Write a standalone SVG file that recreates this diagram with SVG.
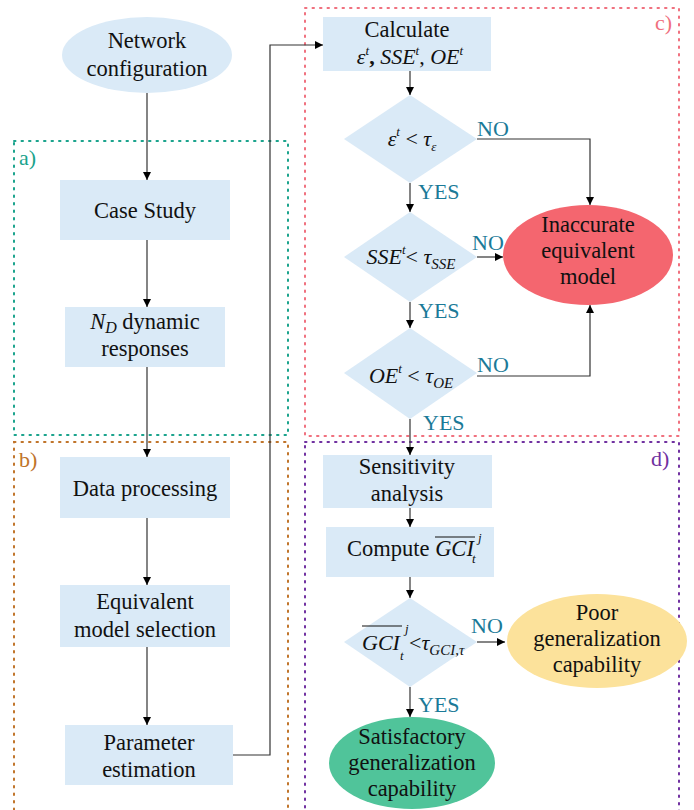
<svg xmlns="http://www.w3.org/2000/svg" width="694" height="810" viewBox="0 0 694 810">
<defs>
<marker id="ah" viewBox="0 0 10 10" refX="10" refY="5" markerWidth="9" markerHeight="8" markerUnits="userSpaceOnUse" orient="auto">
<path d="M0,0 L10,5 L0,10 z" fill="#000"/>
</marker>
</defs>
<style>
.box{fill:#DAEAF7;stroke:none}
.t,.ts,.m,.mc,.yn,.lab,.sm{font-family:"Liberation Serif","DejaVu Serif",serif}
.t{font-size:22.5px;fill:#111;text-anchor:middle}
.ts{font-size:22.5px;fill:#111;text-anchor:start}
.m{font-size:22px;fill:#111;font-style:italic;text-anchor:start}
.sm{font-size:13px;fill:#111;font-style:italic;text-anchor:start}
.mc{font-size:22px;fill:#111;font-style:italic;text-anchor:middle}
.yn{font-size:22px;fill:#1B7A98}
.ca{fill:none;stroke:#333;stroke-width:1.2;marker-end:url(#ah)}
.reg{fill:none;stroke-width:2;stroke-dasharray:1.5 6;stroke-linecap:round}
.lab{font-size:22px}
</style>
<rect width="694" height="810" fill="#fff"/>

<g id="regions">
<rect class="reg" x="14" y="141" width="274" height="294" stroke="#1AA38C"/>
<rect class="reg" x="305" y="8" width="374" height="428" stroke="#F0707E"/>
<rect class="reg" x="14" y="442" width="274" height="420" stroke="#C0742A"/>
<rect class="reg" x="305" y="442" width="374" height="420" stroke="#7030A0"/>
<text class="lab" x="19" y="165" fill="#1AA38C">a)</text>
<text class="lab" x="19" y="467" fill="#C0742A">b)</text>
<text class="lab" x="655" y="30" fill="#F0707E">c)</text>
<text class="lab" x="651" y="466" fill="#7030A0">d)</text>
</g>

<g id="connectors">
<line class="ca" x1="147" y1="93" x2="147" y2="180"/>
<line class="ca" x1="147" y1="240" x2="147" y2="307"/>
<line class="ca" x1="147" y1="367" x2="147" y2="457"/>
<line class="ca" x1="147" y1="518" x2="147" y2="585"/>
<line class="ca" x1="147" y1="647" x2="147" y2="725"/>
<polyline class="ca" points="233,755 270,755 270,45 323,45"/>
<line class="ca" x1="410" y1="71" x2="410" y2="95"/>
<line class="ca" x1="410" y1="183" x2="410" y2="212"/>
<polyline class="ca" points="477,139 590,139 590,205"/>
<line class="ca" x1="477" y1="257" x2="503" y2="257"/>
<line class="ca" x1="410" y1="302" x2="410" y2="328"/>
<polyline class="ca" points="477,376 590,376 590,305"/>
<line class="ca" x1="410" y1="419" x2="410" y2="455"/>
<line class="ca" x1="410" y1="508" x2="410" y2="527"/>
<line class="ca" x1="410" y1="577" x2="410" y2="598"/>
<line class="ca" x1="477" y1="642" x2="505" y2="642"/>
<line class="ca" x1="410" y1="687" x2="410" y2="717"/>
<text class="yn" x="477" y="136">NO</text>
<text class="yn" x="418" y="199">YES</text>
<text class="yn" x="472" y="250">NO</text>
<text class="yn" x="418" y="318">YES</text>
<text class="yn" x="477" y="372">NO</text>
<text class="yn" x="423" y="430">YES</text>
<text class="yn" x="471" y="633">NO</text>
<text class="yn" x="418" y="712">YES</text>
</g>

<g id="network-configuration">
<ellipse cx="147" cy="55" rx="85" ry="38" fill="#DAEAF7"/>
<text class="t" x="147" y="48">Network</text>
<text class="t" x="147" y="76">configuration</text>
</g>

<g id="case-study">
<rect class="box" x="60" y="180" width="170" height="60"/>
<text class="t" x="145" y="218">Case Study</text>
</g>

<g id="dynamic-responses">
<rect class="box" x="65" y="307" width="160" height="60"/>
<text class="t" x="145" y="329"><tspan font-style="italic">N</tspan><tspan font-style="italic" font-size="16" dy="4">D</tspan><tspan dy="-4"> dynamic</tspan></text>
<text class="t" x="145" y="356">responses</text>
</g>

<g id="data-processing">
<rect class="box" x="60" y="457" width="170" height="61"/>
<text class="t" x="145" y="496">Data processing</text>
</g>

<g id="equivalent-model-selection">
<rect class="box" x="60" y="585" width="170" height="62"/>
<text class="t" x="145" y="609">Equivalent</text>
<text class="t" x="145" y="637">model selection</text>
</g>

<g id="parameter-estimation">
<rect class="box" x="65" y="725" width="168" height="60"/>
<text class="t" x="149" y="750">Parameter</text>
<text class="t" x="149" y="777">estimation</text>
</g>

<g id="calculate">
<rect class="box" x="323" y="17" width="168" height="54"/>
<text class="t" x="407" y="37">Calculate</text>
<text class="mc" x="410" y="64">ε<tspan font-size="13" dy="-9">t</tspan><tspan dy="9" font-style="normal" font-weight="bold">, </tspan>SSE<tspan font-size="13" dy="-9">t</tspan><tspan dy="9" font-style="normal">, </tspan>OE<tspan font-size="13" dy="-9">t</tspan></text>
</g>

<g id="check-epsilon">
<polygon points="410,95 477,139 410,183 344,139" fill="#DAEAF7"/>
<text class="mc" x="412" y="146">ε<tspan font-size="13" dy="-10">t</tspan><tspan dy="10" font-style="normal"> &lt; </tspan>τ<tspan font-size="13" dy="5">ε</tspan></text>
</g>

<g id="check-sse">
<polygon points="410,212 477,257 410,302 344,257" fill="#DAEAF7"/>
<text class="mc" x="411" y="264">SSE<tspan font-size="13" dy="-10">t</tspan><tspan dy="10" font-style="normal">&lt; </tspan>τ<tspan font-size="15" dy="5">SSE</tspan></text>
</g>

<g id="check-oe">
<polygon points="410,328 477,373 410,419 344,373" fill="#DAEAF7"/>
<text class="mc" x="411" y="383">OE<tspan font-size="13" dy="-10">t</tspan><tspan dy="10" font-style="normal"> &lt; </tspan>τ<tspan font-size="15" dy="5">OE</tspan></text>
</g>

<g id="inaccurate-model">
<ellipse cx="588" cy="255" rx="85" ry="50" fill="#F4666F"/>
<text class="t" x="588" y="232">Inaccurate</text>
<text class="t" x="588" y="258">equivalent</text>
<text class="t" x="588" y="284">model</text>
</g>

<g id="sensitivity-analysis">
<rect class="box" x="323" y="455" width="169" height="53"/>
<text class="t" x="407" y="474">Sensitivity</text>
<text class="t" x="407" y="501">analysis</text>
</g>

<g id="compute-gci">
<rect class="box" x="326" y="527" width="168" height="50"/>
<text class="ts" x="347" y="556">Compute <tspan font-style="italic">GCI</tspan></text>
<text class="sm" x="472" y="563">t</text>
<text class="sm" x="478" y="542">j</text>
<line x1="435" y1="537" x2="475" y2="537" stroke="#111" stroke-width="1.2"/>
</g>

<g id="check-gci">
<polygon points="410,598 477,642 410,687 344,642" fill="#DAEAF7"/>
<text class="m" x="362" y="650">GCI</text>
<text class="sm" x="400" y="660">t</text>
<text class="sm" x="405" y="633">j</text>
<text class="m" x="409" y="650"><tspan font-style="normal">&lt;</tspan>τ<tspan font-size="15" dy="5">GCI,τ</tspan></text>
<line x1="362" y1="626" x2="402" y2="626" stroke="#111" stroke-width="1.2"/>
</g>

<g id="poor-generalization">
<ellipse cx="597" cy="641" rx="90" ry="47" fill="#FCE29B"/>
<text class="t" x="597" y="620">Poor</text>
<text class="t" x="597" y="646">generalization</text>
<text class="t" x="597" y="672">capability</text>
</g>

<g id="satisfactory-generalization">
<ellipse cx="412" cy="763" rx="83" ry="46" fill="#50C49A"/>
<text class="t" x="412" y="744">Satisfactory</text>
<text class="t" x="412" y="770">generalization</text>
<text class="t" x="412" y="796">capability</text>
</g>
</svg>
